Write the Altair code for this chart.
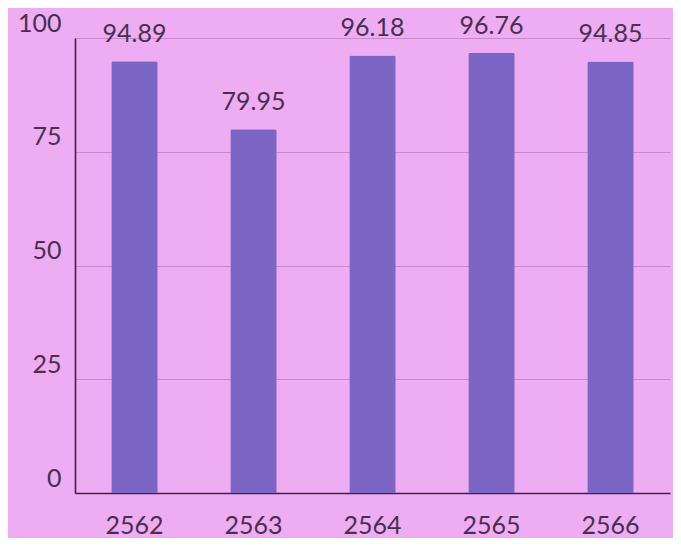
import altair as alt
import pandas as pd

years = ["2562", "2563", "2564", "2565", "2566"]
values = [94.89, 79.95, 96.18, 96.76, 94.85]
labels = ["94.89", "79.95", "96.18", "96.76", "94.85"]

df = pd.DataFrame({"year": years, "value": values, "label": labels})

FONT = "Lato"
TEXT = "#47304f"
BG = "#eeacf2"
BAR = "#7b66c6"

x = alt.X("year:N", sort=years, title=None,
          scale=alt.Scale(paddingInner=0.61, paddingOuter=0.305),
          axis=alt.Axis(labelAngle=0, labelFont=FONT, labelFontSize=25,
                        labelColor=TEXT, labelBaseline="alphabetic",
                        labelPadding=40, ticks=False, domainColor="#3d2344",
                        domainWidth=1.6, grid=False))
y = alt.Y("value:Q", title=None,
          scale=alt.Scale(domain=[0, 100], nice=False),
          axis=alt.Axis(values=[0, 25, 50, 75, 100], labelFont=FONT,
                        labelFontSize=25, labelColor=TEXT, labelPadding=14,
                        labelBaseline="alphabetic", labelOffset=-7,
                        ticks=False, domainColor="#3d2344", domainWidth=1.6,
                        grid=True, gridColor="#c98acd", gridWidth=1.2))

bars = alt.Chart(df).mark_bar(color=BAR, cornerRadiusTopLeft=2,
                              cornerRadiusTopRight=2).encode(x=x, y=y)
text = alt.Chart(df).mark_text(font=FONT, fontSize=25, color=TEXT,
                               baseline="alphabetic", dy=-19).encode(
    x=alt.X("year:N", sort=years), y="value:Q", text="label:N")

chart = (bars + text).properties(
    width=595, height=455, background=BG,
    padding={"left": 67, "top": 30, "right": 3, "bottom": 45},
    autosize=alt.AutoSizeParams(type="none"),
).configure_view(stroke=None)

chart.save("out.html", embed_options={"renderer": "svg", "actions": False})
